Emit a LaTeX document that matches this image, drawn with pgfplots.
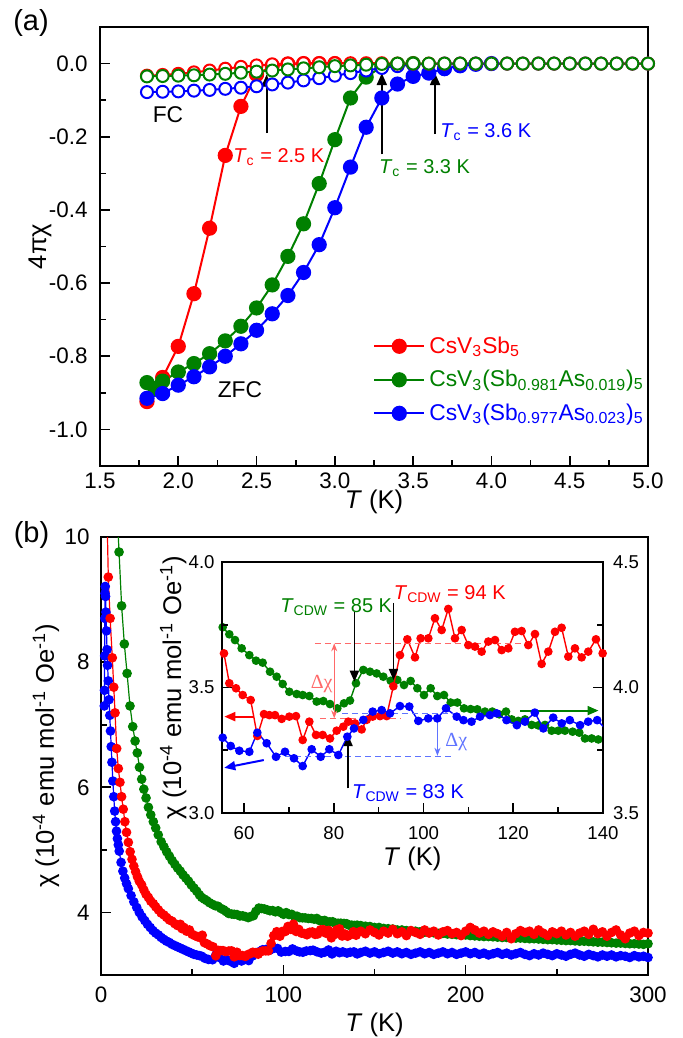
\documentclass[border=0pt]{standalone}
\usepackage{fontspec}
\setmainfont{Liberation Sans}
\newfontfamily\seriffont{Liberation Serif}
\usepackage{pgfplots}
\pgfplotsset{compat=1.18}
\usepackage{pgfplotstable}
\usetikzlibrary{arrows.meta}
\definecolor{cR}{RGB}{255,0,0}
\definecolor{cG}{RGB}{0,128,0}
\definecolor{cB}{RGB}{0,0,255}
\definecolor{lR}{RGB}{255,105,105}
\definecolor{lB}{RGB}{95,115,255}
\newcommand\tickfont{\fontsize{11.2}{13}\selectfont}
\newcommand\labfont{\fontsize{12.8}{15}\selectfont}
\newcommand\annfont{\fontsize{10}{12}\selectfont}
\newcommand\legfont{\fontsize{11.4}{13.5}\selectfont}
\newcommand\insettick{\fontsize{9.3}{11}\selectfont}
\newcommand\panelfont{\fontsize{14.5}{17}\selectfont}

% ---------- panel (a) data ----------
\pgfplotstableread{
T v
1.8 -0.924
1.9 -0.858
2.0 -0.773
2.1 -0.629
2.2 -0.450
2.3 -0.251
2.4 -0.117
2.5 -0.030
2.6 -0.006
2.7 -0.001
2.8 0.000
2.9 0.000
3.0 0.000
}\zfcR
\pgfplotstableread{
T v
1.8 -0.872
1.85 -0.888
1.9 -0.868
2.0 -0.843
2.1 -0.820
2.2 -0.793
2.3 -0.758
2.4 -0.718
2.5 -0.668
2.6 -0.605
2.7 -0.527
2.8 -0.438
2.9 -0.328
3.0 -0.208
3.1 -0.094
3.2 -0.037
3.3 -0.008
3.4 -0.002
3.5 0.000
}\zfcG
\pgfplotstableread{
T v
1.8 -0.915
1.9 -0.902
2.0 -0.879
2.1 -0.856
2.2 -0.829
2.3 -0.800
2.4 -0.766
2.5 -0.729
2.6 -0.684
2.7 -0.634
2.8 -0.571
2.9 -0.495
3.0 -0.394
3.1 -0.283
3.2 -0.174
3.3 -0.094
3.4 -0.056
3.5 -0.035
3.6 -0.026
3.7 -0.014
3.8 -0.006
3.9 -0.002
4.0 0.000
}\zfcB
\pgfplotstableread{
T v
1.8 -0.033
1.9 -0.031
2.0 -0.028
2.1 -0.024
2.2 -0.019
2.3 -0.014
2.4 -0.009
2.5 -0.005
2.6 -0.002
2.7 0.000
2.8 0.001
2.9 0.001
3.0 0.001
3.1 0.001
3.2 0.001
3.3 0.001
3.4 0.000
3.5 0.000
3.6 0.000
3.7 0.000
3.8 0.000
3.9 0.000
4.0 0.000
4.1 0.000
4.2 0.000
4.3 0.000
4.4 0.000
4.5 0.000
4.6 0.000
4.7 0.000
4.8 0.000
4.9 0.000
5.0 0.000
}\fcR
\pgfplotstableread{
T v
1.8 -0.035
1.9 -0.034
2.0 -0.033
2.1 -0.032
2.2 -0.030
2.3 -0.028
2.4 -0.025
2.5 -0.022
2.6 -0.019
2.7 -0.016
2.8 -0.013
2.9 -0.010
3.0 -0.007
3.1 -0.005
3.2 -0.003
3.3 -0.001
3.4 0.000
3.5 0.000
3.6 0.000
3.7 0.000
3.8 0.000
3.9 0.000
4.0 0.000
4.1 0.000
4.2 0.000
4.3 0.000
4.4 0.000
4.5 0.000
4.6 0.000
4.7 0.000
4.8 0.000
4.9 0.000
5.0 0.000
}\fcG
\pgfplotstableread{
T v
1.8 -0.078
1.9 -0.077
2.0 -0.076
2.1 -0.074
2.2 -0.072
2.3 -0.069
2.4 -0.066
2.5 -0.062
2.6 -0.057
2.7 -0.052
2.8 -0.046
2.9 -0.040
3.0 -0.033
3.1 -0.026
3.2 -0.019
3.3 -0.012
3.4 -0.007
3.5 -0.003
3.6 -0.001
3.7 0.000
3.8 0.000
3.9 0.000
4.0 0.000
4.1 0.000
4.2 0.000
4.3 0.000
4.4 0.000
4.5 0.000
4.6 0.000
4.7 0.000
4.8 0.000
4.9 0.000
5.0 0.000
}\fcB

% ---------- panel (b) data ----------
\pgfplotstableread{
T v
2.5 11.50
3.0 10.80
4.0 9.36
5.0 8.70
6.2 8.07
7.0 7.60
7.7 7.19
8.6 6.62
9.5 6.30
10.4 6.08
11.3 5.85
12.2 5.65
13.1 5.45
14.0 5.28
15.0 5.12
16.0 4.97
17.0 4.85
18.0 4.74
19.0 4.65
20.0 4.57
21.0 4.50
22.3 4.44
23.5 4.36
24.7 4.29
26.0 4.24
27.3 4.18
28.7 4.14
30.0 4.09
31.5 4.04
33.0 3.99
34.5 3.96
36.0 3.92
37.5 3.88
39.0 3.86
40.5 3.82
42.0 3.79
43.5 3.81
44.5 3.74
45.5 3.76
47.0 3.70
48.5 3.72
50.0 3.65
51.5 3.63
53.0 3.61
54.3 3.60
55.53 3.636
56.72 3.517
58.21 3.497
59.70 3.470
61.48 3.450
62.96 3.307
64.45 3.394
65.64 3.390
66.90 3.390
68.39 3.375
70.09 3.384
71.58 3.386
73.07 3.291
74.55 3.364
76.04 3.311
77.52 3.311
79.16 3.297
80.64 3.328
82.13 3.344
83.24 3.364
84.73 3.357
86.21 3.333
87.33 3.371
88.66 3.384
90.30 3.386
91.78 3.386
93.27 3.505
94.75 3.629
96.39 3.692
98.10 3.620
99.36 3.696
101.07 3.696
102.55 3.776
104.04 3.729
105.52 3.813
107.01 3.696
108.50 3.729
109.98 3.669
111.47 3.663
112.95 3.643
114.44 3.683
115.93 3.689
117.41 3.649
118.90 3.656
120.38 3.722
121.87 3.725
123.35 3.669
124.84 3.713
126.32 3.594
127.81 3.643
129.30 3.722
130.78 3.738
132.27 3.623
133.75 3.656
135.24 3.620
136.72 3.643
138.43 3.692
139.92 3.636
142.5 3.70
145 3.66
147.5 3.72
150 3.68
152.5 3.64
155 3.70
157.5 3.67
160 3.73
162.5 3.66
165 3.69
167.5 3.63
170 3.71
172.5 3.68
175 3.65
177.5 3.72
180 3.67
182.5 3.70
185 3.64
187.5 3.69
190 3.71
192.5 3.66
195 3.68
197.5 3.63
200 3.70
202.5 3.76
205 3.72
207.5 3.67
210 3.70
212.5 3.65
215 3.69
217.5 3.66
220 3.62
222.5 3.68
225 3.58
227.5 3.66
230 3.71
232.5 3.68
235 3.70
237.5 3.65
240 3.72
242.5 3.67
245 3.63
247.5 3.69
250 3.66
252.5 3.70
255 3.64
257.5 3.68
260 3.62
262.5 3.67
265 3.70
267.5 3.65
270 3.73
272.5 3.66
275 3.69
277.5 3.62
280 3.68
282.5 3.72
285 3.64
287.5 3.58
290 3.67
292.5 3.70
295 3.63
297.5 3.68
300 3.67
}\redB
\pgfplotstableread{
T v
8.5 10.60
9.9 9.76
11.3 8.90
12.8 8.29
14.3 7.82
15.9 7.30
17.4 6.97
18.7 6.74
19.9 6.55
21.1 6.32
22.3 6.13
23.5 5.97
24.7 5.83
26.0 5.68
27.3 5.56
28.7 5.45
30.0 5.35
31.4 5.24
33.0 5.13
34.5 5.05
36.0 4.97
37.5 4.90
39.0 4.83
40.5 4.77
42.0 4.71
43.5 4.66
45.0 4.60
46.5 4.55
48.0 4.50
49.5 4.44
51.0 4.39
52.5 4.34
54.0 4.28
55.24 4.240
56.72 4.212
57.99 4.189
59.47 4.156
61.18 4.129
62.67 4.107
64.15 4.099
65.79 4.063
67.27 4.043
68.61 4.014
70.09 3.983
71.73 3.974
73.07 3.970
74.55 3.966
76.19 3.944
77.67 3.946
79.16 3.934
80.79 3.917
82.28 3.937
83.61 3.948
84.95 4.017
86.58 4.070
88.07 4.063
89.56 4.056
91.04 4.043
92.68 4.027
94.16 4.030
95.65 4.010
97.13 4.026
98.62 3.997
100.10 3.970
101.59 3.997
103.07 3.966
104.56 3.970
106.05 3.940
107.53 3.940
109.02 3.917
110.50 3.914
111.99 3.913
113.70 3.904
115.33 3.904
116.89 3.893
118.38 3.904
119.64 3.873
121.12 3.867
122.61 3.873
124.10 3.851
125.58 3.849
127.07 3.851
128.55 3.828
130.04 3.828
131.52 3.828
133.23 3.824
134.72 3.820
135.98 3.797
137.47 3.797
138.95 3.793
140.43 3.797
142.5 3.79
145 3.78
147.5 3.775
150 3.76
152.5 3.76
155 3.745
157.5 3.74
160 3.735
162.5 3.72
165 3.72
167.5 3.71
170 3.705
172.5 3.70
175 3.69
177.5 3.685
180 3.68
182.5 3.675
185 3.665
187.5 3.665
190 3.655
192.5 3.65
195 3.645
197.5 3.64
200 3.64
202.5 3.63
205 3.625
207.5 3.62
210 3.615
212.5 3.615
215 3.61
217.5 3.605
220 3.60
222.5 3.60
225 3.595
227.5 3.59
230 3.59
232.5 3.585
235 3.58
237.5 3.58
240 3.575
242.5 3.57
245 3.565
247.5 3.565
250 3.56
252.5 3.555
255 3.55
257.5 3.55
260 3.545
262.5 3.54
265 3.54
267.5 3.535
270 3.53
272.5 3.525
275 3.525
277.5 3.52
280 3.515
282.5 3.51
285 3.51
287.5 3.505
290 3.50
292.5 3.50
295 3.495
297.5 3.49
300 3.50
}\greenB
\pgfplotstableread{
T v
1.8 7.30
1.9 7.55
2.0 8.10
2.1 8.70
2.2 9.10
2.3 9.21
2.5 9.05
2.7 8.80
3.0 8.50
3.3 8.20
3.6 7.95
4.0 7.70
4.4 7.40
4.8 7.15
5.2 6.90
5.6 6.65
6.0 6.40
6.5 6.10
7.0 5.85
7.5 5.62
8.0 5.45
8.5 5.30
9.0 5.18
9.5 5.08
10.0 4.98
11.0 4.80
12.0 4.66
13.0 4.55
14.0 4.46
15.0 4.38
16.5 4.27
18.0 4.17
19.6 4.08
21.0 4.00
22.5 3.93
24.0 3.87
25.5 3.81
27.0 3.76
28.5 3.71
30.0 3.67
31.5 3.64
33.0 3.60
34.5 3.57
36.0 3.54
37.5 3.52
39.0 3.49
40.5 3.47
42.0 3.45
43.5 3.43
45.0 3.41
46.5 3.39
48.0 3.37
49.5 3.35
51.0 3.33
52.5 3.32
54.0 3.31
55.24 3.300
57.02 3.267
58.95 3.248
61.18 3.244
62.96 3.320
65.04 3.278
67.12 3.224
69.13 3.244
71.13 3.218
73.07 3.187
75.07 3.254
77.08 3.224
79.01 3.254
81.01 3.231
83.02 3.304
84.50 3.337
86.58 3.371
88.66 3.404
90.67 3.410
92.53 3.397
94.75 3.426
96.83 3.424
98.84 3.367
101.07 3.377
103.07 3.377
105.01 3.417
107.4 3.384
108.9 3.370
110.7 3.364
112.6 3.384
114.8 3.390
116.3 3.397
118.5 3.370
120.8 3.350
122.6 3.364
124.8 3.400
126.7 3.337
128.9 3.380
130.8 3.357
132.6 3.370
134.9 3.350
136.7 3.364
138.7 3.370
140.5 3.337
142.5 3.36
145 3.38
147.5 3.35
150 3.37
152.5 3.34
155 3.36
157.5 3.38
160 3.35
162.5 3.37
165 3.34
167.5 3.36
170 3.33
172.5 3.35
175 3.37
177.5 3.34
180 3.36
182.5 3.33
185 3.35
187.5 3.37
190 3.34
192.5 3.36
195 3.33
197.5 3.35
200 3.37
202.5 3.34
205 3.36
207.5 3.33
210 3.35
212.5 3.32
215 3.34
217.5 3.36
220 3.33
222.5 3.35
225 3.32
227.5 3.34
230 3.36
232.5 3.33
235 3.31
237.5 3.34
240 3.32
242.5 3.35
245 3.33
247.5 3.31
250 3.34
252.5 3.32
255 3.30
257.5 3.33
260 3.35
262.5 3.32
265 3.30
267.5 3.33
270 3.31
272.5 3.29
275 3.32
277.5 3.30
280 3.32
282.5 3.29
285 3.31
287.5 3.30
290 3.28
292.5 3.31
295 3.29
297.5 3.30
300 3.28
}\blueB

\pgfplotsset{
  myax/.style={
    scale only axis, tick align=inside,
    xtick pos=bottom, ytick pos=left,
    major tick length=5pt, minor tick length=3pt,
    tick style={black, line width=0.8pt},
    axis line style={line width=1pt},
    minor x tick num=1, minor y tick num=1,
    tick label style={font=\tickfont},
    label style={font=\labfont},
  },
}

\begin{document}
\begin{tikzpicture}
\useasboundingbox (0,0) rectangle (341pt,-519pt);

% ================= panel (a) =================
\begin{axis}[myax,
  at={(50pt,-233pt)}, anchor=south west,
  width=274pt, height=219.5pt,
  xmin=1.5, xmax=5.0, ymin=-1.1, ymax=0.1,
  clip=false,
  xtick={1.5,2.0,2.5,3.0,3.5,4.0,4.5,5.0},
  xticklabels={1.5,2.0,2.5,3.0,3.5,4.0,4.5,5.0},
  ytick={-1.0,-0.8,-0.6,-0.4,-0.2,0.0},
  yticklabels={-1.0,-0.8,-0.6,-0.4,-0.2,0.0},
  yticklabel style={xshift=-2.7pt},
  xlabel={\textit{T} (K)},
  ylabel={4πχ},
  xlabel style={at={(axis description cs:0.5,-0.082)}, anchor=center},
  ylabel style={at={(axis description cs:-0.1095,0.5)}, anchor=center},
  legend image code/.code={\draw[mark repeat=2,mark phase=2] plot coordinates {(0pt,0pt) (12.5pt,0pt) (25pt,0pt)};},
  legend style={draw=none, fill=none, at={(rel axis cs:0.498,0.305)}, anchor=north west,
    inner sep=0pt, row sep=3pt, font=\legfont, legend cell align=left},
]
\addplot[cR, line width=1pt, mark=*, mark size=3.3pt, mark options={solid, fill=cR, draw=cR}] table {\zfcR};
\addlegendentry{\textcolor{cR}{CsV\textsubscript{3}Sb\textsubscript{5}}}
\addplot[cG, line width=1pt, mark=*, mark size=3.3pt, mark options={solid, fill=cG, draw=cG}] table {\zfcG};
\addlegendentry{\textcolor{cG}{CsV\textsubscript{3}(Sb\textsubscript{0.981}As\textsubscript{0.019})\textsubscript{5}}}
\addplot[cB, line width=1pt, mark=*, mark size=3.3pt, mark options={solid, fill=cB, draw=cB}] table {\zfcB};
\addlegendentry{\textcolor{cB}{CsV\textsubscript{3}(Sb\textsubscript{0.977}As\textsubscript{0.023})\textsubscript{5}}}
\addplot[cB, line width=1pt, mark=*, mark size=3.0pt, mark options={solid, fill=white, draw=cB, line width=1pt}, forget plot] table {\fcB};
\addplot[cR, line width=1pt, mark=*, mark size=3.0pt, mark options={solid, fill=white, draw=cR, line width=1pt}, forget plot] table {\fcR};
\addplot[cG, line width=1pt, mark=*, mark size=3.0pt, mark options={solid, fill=white, draw=cG, line width=1pt}, forget plot] table {\fcG};
% arrows
\draw[line width=1pt, -{Triangle[length=6pt,width=5pt]}] (axis cs:2.564,-0.190) -- (axis cs:2.564,-0.030);
\draw[line width=1pt, -{Triangle[length=6pt,width=5pt]}] (axis cs:3.30,-0.248) -- (axis cs:3.30,-0.026);
\draw[line width=1pt, -{Triangle[length=6pt,width=5pt]}] (axis cs:3.64,-0.193) -- (axis cs:3.64,-0.026);
\node[cR, anchor=base west, inner sep=0pt, font=\annfont] at (axis cs:2.349,-0.271) {\textit{T}\textsubscript{c} = 2.5 K};
\node[cG, anchor=base west, inner sep=0pt, font=\annfont] at (axis cs:3.28,-0.301) {\textit{T}\textsubscript{c} = 3.3 K};
\node[cB, anchor=base west, inner sep=0pt, font=\annfont] at (axis cs:3.671,-0.203) {\textit{T}\textsubscript{c} = 3.6 K};
\node[font=\legfont] at (axis cs:1.934,-0.139) {FC};
\node[font=\legfont] at (axis cs:2.394,-0.890) {ZFC};
\end{axis}
\node[font=\panelfont] at (15.5pt,-11.5pt) {(a)};

% ================= panel (b) =================
\begin{axis}[myax,
  at={(50.5pt,-487.5pt)}, anchor=south west,
  width=273.5pt, height=219pt,
  xmin=0, xmax=300, ymin=3, ymax=10,
  xtick={0,100,200,300}, xticklabels={0,100,200,300},
  ytick={4,6,8,10}, yticklabels={4,6,8,10},
  xticklabel style={yshift=-2.5pt},
  yticklabel style={xshift=-2.2pt},
  xlabel={\textit{T} (K)},
  ylabel={χ (10\textsuperscript{-4} emu mol\textsuperscript{-1} Oe\textsuperscript{-1})},
  xlabel style={at={(axis description cs:0.5,-0.114)}, anchor=center},
  ylabel style={at={(axis description cs:-0.1005,0.5)}, anchor=center},
]
\addplot[cB, line width=0.6pt, mark=*, mark size=2.1pt, mark options={solid}] table {\blueB};
\addplot[cG, line width=0.6pt, mark=*, mark size=2.1pt, mark options={solid}] table {\greenB};
\addplot[cR, line width=0.6pt, mark=*, mark size=2.1pt, mark options={solid}] table {\redB};
\end{axis}
\node[font=\panelfont] at (15.75pt,-267.5pt) {(b)};

% ================= inset: right axis (green) =================
\begin{axis}[myax,
  at={(110.8pt,-406.5pt)}, anchor=south west,
  width=190.7pt, height=125.5pt,
  xmin=55, xmax=140, ymin=3.5, ymax=4.5,
  axis x line=none, axis y line*=right, ytick pos=right,
  ytick={3.5,4.0,4.5}, yticklabels={3.5,4.0,4.5},
  tick label style={font=\insettick},
  yticklabel style={xshift=1.5pt},
  axis background/.style={fill=white},
]
\addplot[cG, line width=0.7pt, mark=*, mark size=1.8pt, mark options={solid}] table {\greenB};
\end{axis}

% ================= inset: left axis (red, blue) =================
\begin{axis}[myax,
  at={(110.8pt,-406.5pt)}, anchor=south west,
  width=190.7pt, height=125.5pt,
  xmin=55, xmax=140, ymin=3.0, ymax=4.0,
  xtick={60,80,100,120,140}, xticklabels={60,80,100,120,140},
  ytick={3.0,3.5,4.0}, yticklabels={3.0,3.5,4.0},
  tick label style={font=\insettick},
  xticklabel style={yshift=-3.3pt},
  xlabel={\textit{T} (K)},
  ylabel={χ (10\textsuperscript{-4} emu mol\textsuperscript{-1} Oe\textsuperscript{-1})},
  xlabel style={at={(axis description cs:0.5,-0.183)}, anchor=center},
  ylabel style={at={(axis description cs:-0.127,0.5)}, anchor=center},
]
\addplot[cR, line width=0.7pt, mark=*, mark size=1.8pt, mark options={solid}] table {\redB};
\addplot[cB, line width=0.7pt, mark=*, mark size=1.8pt, mark options={solid}] table {\blueB};
% dashed guides and delta chi
\draw[lR, line width=0.6pt, dash pattern=on 3pt off 2pt] (axis cs:75.8,3.676) -- (axis cs:124.5,3.676);
\draw[lR, line width=0.6pt, dash pattern=on 3pt off 2pt] (axis cs:76.9,3.377) -- (axis cs:94.8,3.377);
\draw[lR, line width=0.6pt, {Stealth[length=4pt,width=3pt]}-{Stealth[length=4pt,width=3pt]}] (axis cs:80.1,3.676) -- (axis cs:80.1,3.377);
\node[lR, font=\annfont\seriffont] at (axis cs:77.3,3.515) {Δχ};
\draw[lB, line width=0.6pt, dash pattern=on 3pt off 2pt] (axis cs:81.8,3.397) -- (axis cs:107.4,3.397);
\draw[lB, line width=0.6pt, dash pattern=on 3pt off 2pt] (axis cs:67.0,3.226) -- (axis cs:107.0,3.226);
\draw[lB, line width=0.6pt, {Stealth[length=4pt,width=3pt]}-{Stealth[length=4pt,width=3pt]}] (axis cs:103.1,3.397) -- (axis cs:103.1,3.228);
\node[lB, anchor=west, inner sep=0pt, font=\annfont\seriffont] at (axis cs:104.8,3.284) {Δχ};
% black arrows
\draw[line width=0.9pt, -{Triangle[length=5.5pt,width=4.5pt]}] (axis cs:84.6,3.80) -- (axis cs:84.6,3.523);
\draw[line width=0.9pt, -{Triangle[length=5.5pt,width=4.5pt]}] (axis cs:93.3,3.837) -- (axis cs:93.3,3.53);
\draw[line width=0.9pt, -{Triangle[length=5.5pt,width=4.5pt]}] (axis cs:83.2,3.098) -- (axis cs:83.2,3.31);
% colored arrows
\draw[cR, line width=1pt, -{Triangle[length=5.5pt,width=4.5pt]}] (axis cs:62.1,3.384) -- (axis cs:55.6,3.384);
\draw[cB, line width=1pt, -{Triangle[length=5.5pt,width=4.5pt]}] (axis cs:64.4,3.211) -- (axis cs:55.6,3.180);
\draw[cG, line width=1pt, -{Triangle[length=5.5pt,width=4.5pt]}] (axis cs:121.5,3.408) -- (axis cs:139.0,3.408);
% labels
\node[cG, anchor=base west, inner sep=0pt, font=\annfont] at (axis cs:68.0,3.80) {\textit{T}\textsubscript{CDW} = 85 K};
\node[cR, anchor=base west, inner sep=0pt, font=\annfont] at (axis cs:93.3,3.849) {\textit{T}\textsubscript{CDW} = 94 K};
\node[cB, anchor=base west, inner sep=0pt, font=\annfont] at (axis cs:84.0,3.059) {\textit{T}\textsubscript{CDW} = 83 K};
\end{axis}
\end{tikzpicture}
\end{document}
